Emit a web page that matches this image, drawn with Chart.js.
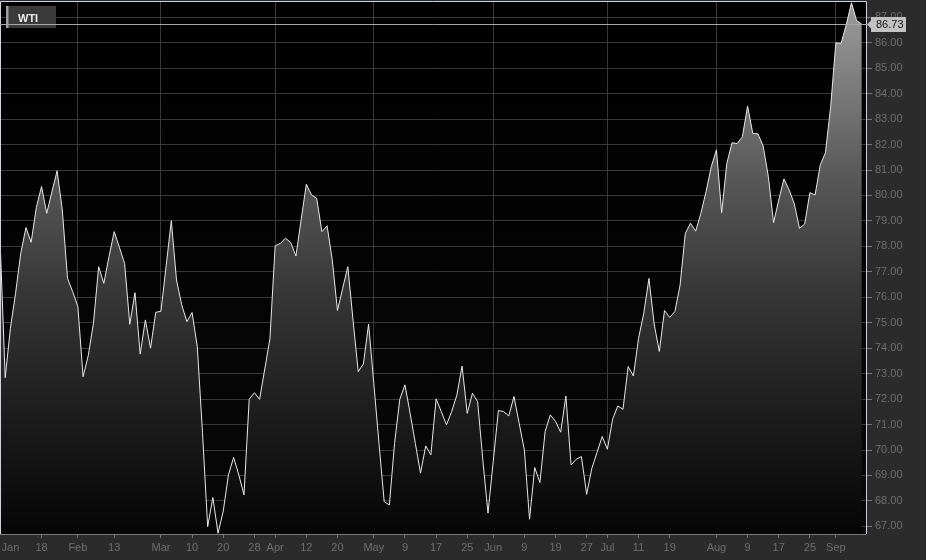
<!DOCTYPE html>
<html>
<head>
<meta charset="utf-8">
<script src="https://cdn.jsdelivr.net/npm/chart.js@4.4.1/dist/chart.umd.min.js"></script>
<style>
  html, body { margin: 0; padding: 0; background: #2b2b2b; }
  #wrap { width: 926px; height: 560px; position: relative; }
  canvas { display: block; }
</style>
</head>
<body>
<div id="wrap"><canvas id="c" width="926" height="560"></canvas></div>
<script>
const seriesName = 'WTI';
const prices = [
  78.32, 72.84, 74.78, 76.16, 77.73, 78.74, 78.16, 79.53, 80.35, 79.30,
  80.14, 80.97, 79.43, 76.75, 76.22, 75.63, 72.88, 73.71, 74.98, 77.20,
  76.55, 77.60, 78.58, 77.96, 77.33, 74.94, 76.18, 73.77, 75.11, 74.00,
  75.41, 75.45, 77.23, 79.01, 76.68, 75.70, 75.04, 75.40, 74.06, 70.70,
  66.99, 68.13, 66.73, 67.60, 69.02, 69.71, 69.02, 68.24, 71.99, 72.25,
  71.99, 73.18, 74.39, 78.02, 78.12, 78.32, 78.15, 77.62, 79.04, 80.44,
  80.02, 79.89, 78.58, 78.81, 77.47, 75.48, 76.35, 77.20, 75.11, 73.08,
  73.38, 74.95, 72.62, 70.26, 67.97, 67.84, 70.26, 71.99, 72.56, 71.44,
  70.26, 69.09, 70.16, 69.81, 72.01, 71.51, 70.99, 71.51, 72.16, 73.30,
  71.44, 72.23, 71.90, 69.61, 67.52, 69.55, 71.55, 71.51, 71.34, 72.10,
  71.05, 70.00, 67.28, 69.31, 68.72, 70.72, 71.38, 71.12, 70.70, 72.12,
  69.41, 69.64, 69.74, 68.26, 69.28, 69.91, 70.53, 70.03, 71.21, 71.73,
  71.60, 73.28, 72.91, 74.39, 75.37, 76.74, 74.95, 73.87, 75.48, 75.21,
  75.44, 76.48, 78.51, 78.91, 78.60, 79.30, 80.15, 81.13, 81.79, 79.32,
  81.26, 82.07, 82.04, 82.31, 83.51, 82.44, 82.42, 81.94, 80.74, 78.93,
  79.82, 80.65, 80.22, 79.67, 78.71, 78.88, 80.11, 80.02, 81.20, 81.68,
  83.49, 86.00, 85.97, 86.70, 87.57, 86.87, 86.73
];
const tickIndex = [2, 8, 15, 22, 31, 37, 43, 49, 53, 59, 65, 72, 78, 84, 90, 95, 101, 107, 113, 117, 123, 129, 138, 144, 150, 156, 161];
const tickText  = ['Jan','18','Feb','13','Mar','10','20','28','Apr','12','20','May','9','17','25','Jun','9','19','27','Jul','11','19','Aug','9','17','25','Sep'];
const monthNames = ['Feb','Mar','Apr','May','Jun','Jul','Aug','Sep'];
const yTickValues = [67,68,69,70,71,72,73,74,75,76,77,78,79,80,81,82,83,84,85,86,87];
const yMin = 66.70, yMax = 87.64;

// build category labels (one extra slot at the end for right padding)
const labels = [];
for (let i = 0; i < prices.length + 1; i++) labels.push('');
tickIndex.forEach((idx, k) => { labels[idx] = tickText[k]; });
const monthIdx = new Set(tickIndex.filter((idx, k) => monthNames.includes(tickText[k])));
const tickIdx = new Set(tickIndex.filter((idx, k) => tickText[k] !== 'Jan'));

const FONT = 'Arial, "Liberation Sans", sans-serif';
const lastValue = prices[prices.length - 1];

function noPad(scale) {
  scale.paddingLeft = 0; scale.paddingRight = 0;
  scale.paddingTop = 0; scale.paddingBottom = 0;
}

const decor = {
  id: 'decor',
  beforeDraw(chart) {
    const { ctx, chartArea: a } = chart;
    ctx.save();
    const g = ctx.createLinearGradient(0, a.top, 0, a.bottom);
    g.addColorStop(0, '#000000');
    g.addColorStop(1, '#080808');
    ctx.fillStyle = g;
    ctx.fillRect(a.left, a.top, a.right - a.left, a.bottom - a.top);
    ctx.restore();
  },
  afterDraw(chart) {
    const { ctx, chartArea: a } = chart;
    const y = chart.scales.y;
    ctx.save();
    // borders
    ctx.lineWidth = 1;
    ctx.strokeStyle = '#cdd2e2';
    ctx.beginPath();
    ctx.moveTo(a.left + 0.5, a.bottom);
    ctx.lineTo(a.left + 0.5, a.top + 0.5);
    ctx.lineTo(a.right - 0.5, a.top + 0.5);
    ctx.lineTo(a.right - 0.5, a.bottom);
    ctx.stroke();
    ctx.strokeStyle = '#7a7a7a';
    ctx.beginPath();
    ctx.moveTo(a.left, a.bottom + 0.5);
    ctx.lineTo(a.right - 1, a.bottom + 0.5);
    ctx.stroke();

    // legend box
    ctx.fillStyle = '#3a3a3a';
    ctx.fillRect(6, 6, 50, 22);
    ctx.fillStyle = '#a0a0a0';
    ctx.fillRect(6, 6, 2.5, 22);
    ctx.fillStyle = '#ececec';
    ctx.font = 'bold 11px ' + FONT;
    ctx.textBaseline = 'alphabetic';
    ctx.textAlign = 'left';
    ctx.fillText(seriesName, 18, 21.5);

    // last value line
    const py = Math.round(y.getPixelForValue(lastValue)) + 0.5;
    ctx.strokeStyle = '#a8a8a8';
    ctx.beginPath();
    ctx.moveTo(a.left, py);
    ctx.lineTo(a.right, py);
    ctx.stroke();

    // last value label
    const bx = a.right + 4, bw = 35, bh = 15;
    ctx.fillStyle = '#c2c2c2';
    ctx.beginPath();
    ctx.moveTo(a.right, py);
    ctx.lineTo(bx, py - 4);
    ctx.lineTo(bx, py - bh / 2);
    ctx.lineTo(bx + bw, py - bh / 2);
    ctx.lineTo(bx + bw, py + bh / 2);
    ctx.lineTo(bx, py + bh / 2);
    ctx.lineTo(bx, py + 4);
    ctx.closePath();
    ctx.fill();
    ctx.fillStyle = '#141414';
    ctx.font = '11px ' + FONT;
    ctx.textBaseline = 'middle';
    ctx.fillText(lastValue.toFixed(2), bx + 5, py + 0.5);
    ctx.restore();
  }
};

new Chart(document.getElementById('c'), {
  type: 'line',
  data: {
    labels: labels,
    datasets: [{
      label: seriesName,
      data: prices,
      borderColor: '#e8e8e8',
      borderWidth: 1,
      pointRadius: 0,
      tension: 0,
      fill: 'start',
      backgroundColor(context) {
        const { chart } = context;
        const { ctx, chartArea } = chart;
        if (!chartArea) return 'rgba(120,120,120,0.6)';
        const g = ctx.createLinearGradient(0, chartArea.top, 0, chartArea.bottom);
        g.addColorStop(0, '#9c9c9c');
        g.addColorStop(0.08, '#8c8c8c');
        g.addColorStop(0.2, '#737373');
        g.addColorStop(0.32, '#5a5a5a');
        g.addColorStop(0.55, '#363636');
        g.addColorStop(0.78, '#1c1c1c');
        g.addColorStop(1, '#050505');
        return g;
      }
    }]
  },
  options: {
    responsive: false,
    animation: false,
    devicePixelRatio: 1,
    layout: { padding: { top: 1, left: 0, right: 0, bottom: 0 } },
    plugins: { legend: { display: false }, tooltip: { enabled: false } },
    scales: {
      x: {
        type: 'category',
        offset: false,
        border: { display: false },
        grid: {
          drawOnChartArea: true,
          color: (c) => monthIdx.has(c.index) ? '#383838' : 'rgba(0,0,0,0)',
          tickColor: (c) => tickIdx.has(c.index) ? '#777777' : 'rgba(0,0,0,0)',
          tickLength: 4,
          lineWidth: 1
        },
        ticks: {
          autoSkip: false,
          maxRotation: 0,
          minRotation: 0,
          padding: 3,
          color: '#6e6e6e',
          font: { family: FONT, size: 11 },
          callback(value, index) { return labels[index]; }
        },
        afterFit(scale) { scale.height = 26; noPad(scale); }
      },
      y: {
        position: 'right',
        min: yMin,
        max: yMax,
        border: { display: false },
        grid: { color: '#383838', tickColor: '#777777', tickLength: 5, lineWidth: 1 },
        ticks: {
          padding: 3,
          color: '#6e6e6e',
          font: { family: FONT, size: 11 },
          callback(v) { return Number(v).toFixed(2); }
        },
        afterBuildTicks(scale) { scale.ticks = yTickValues.map(v => ({ value: v })); },
        afterFit(scale) { scale.width = 59; noPad(scale); }
      }
    }
  },
  plugins: [decor]
});
</script>
</body>
</html>
